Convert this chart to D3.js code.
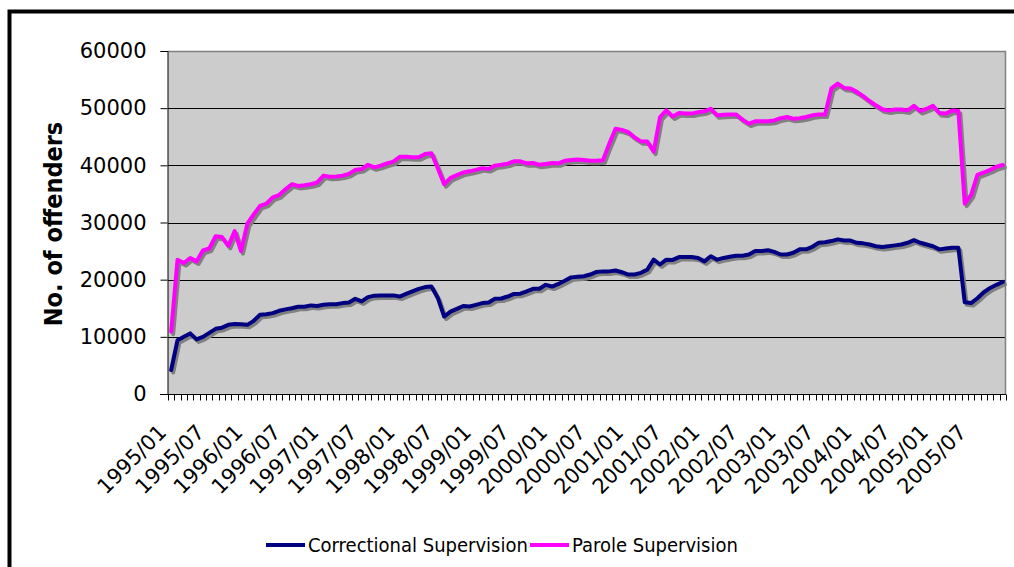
<!DOCTYPE html>
<html>
<head>
<meta charset="utf-8">
<script src="https://cdn.jsdelivr.net/npm/d3@7"></script>
<style>
  body { margin: 0; background: #fff; }
  svg { display: block; }
</style>
</head>
<body>
<svg width="1014" height="567"></svg>
<script>
const years = ["1995","1996","1997","1998","1999","2000","2001","2002","2003","2004","2005"];
const monthNums = ["01","02","03","04","05","06","07","08","09","10","11","12"];
const months = [];
years.forEach(y => monthNums.forEach(m => months.push(y + "/" + m)));

const tickLabels = ["1995/01","1995/07","1996/01","1996/07","1997/01","1997/07","1998/01","1998/07",
  "1999/01","1999/07","2000/01","2000/07","2001/01","2001/07","2002/01","2002/07",
  "2003/01","2003/07","2004/01","2004/07","2005/01","2005/07"];

const yTicks = [0, 10000, 20000, 30000, 40000, 50000, 60000];

const correctional = [
  4200, 9400, 10000, 10600, 9550, 10000, 10700, 11400, 11600, 12100, 12250, 12200,
  12100, 12800, 13850, 13950, 14150, 14550, 14800, 15000, 15250, 15250, 15500, 15400,
  15600, 15700, 15700, 15900, 16000, 16650, 16200, 16950, 17200, 17250, 17250, 17250,
  17050, 17500, 17950, 18400, 18700, 18800, 16800, 13550, 14400, 14900, 15400, 15300,
  15600, 15900, 16000, 16650, 16700, 17050, 17500, 17550, 17950, 18400, 18400, 19100,
  18800, 19250, 19800, 20400, 20500, 20600, 20900, 21350, 21450, 21450, 21600, 21300,
  20900, 20900, 21200, 21750, 23500, 22650, 23500, 23450, 23950, 23950, 23950, 23800,
  23200, 24100, 23500, 23800, 24000, 24200, 24200, 24400, 25000, 25000, 25150, 24850,
  24400, 24400, 24700, 25300, 25300, 25750, 26450, 26550, 26750, 27050, 26850, 26850,
  26450, 26350, 26150, 25850, 25700, 25850, 26000, 26150, 26450, 26900, 26450, 26150,
  25850, 25300, 25450, 25600, 25600, 16050, 15900, 16750, 17800, 18550, 19100, 19600
];

const parole = [
  10900, 23500, 22900, 23800, 23200, 25100, 25450, 27600, 27450, 25900, 28500, 25000,
  29800, 31400, 32900, 33300, 34400, 34800, 35800, 36700, 36400, 36500, 36700, 37000,
  38200, 38000, 38050, 38200, 38500, 39200, 39350, 40100, 39650, 39950, 40350, 40650,
  41500, 41500, 41400, 41400, 42000, 42100, 39500, 36700, 37800, 38300, 38750, 38950,
  39200, 39500, 39350, 39950, 40100, 40300, 40700, 40700, 40350, 40400, 40100, 40250,
  40400, 40350, 40800, 40950, 41000, 40950, 40800, 40800, 40900, 43750, 46400, 46200,
  45800, 44900, 44200, 44150, 42400, 48450, 49600, 48550, 49150, 49050, 49050, 49300,
  49450, 49900, 48750, 48850, 48900, 48900, 48000, 47300, 47700, 47700, 47700, 47850,
  48250, 48450, 48150, 48250, 48450, 48750, 48900, 48900, 53450, 54300, 53550, 53450,
  52850, 52100, 51250, 50500, 49800, 49600, 49750, 49750, 49600, 50400, 49500, 49900,
  50400, 49150, 49050, 49600, 49500, 33300, 34800, 38350, 38750, 39200, 39750, 40050
];

const seriesNames = ["Correctional Supervision", "Parole Supervision"];
const seriesColors = ["#000080", "#ff00ff"];

const svg = d3.select("svg");
const plot = { left: 168, right: 1006, top: 51, bottom: 394 };
const tickFont = "'DejaVu Sans', Verdana, sans-serif";
const condFont = "'DejaVu Sans Condensed', 'DejaVu Sans', sans-serif";

const x = d3.scaleBand().domain(months).range([plot.left, plot.right]).padding(0);
const y = d3.scaleLinear().domain([0, 60000]).range([plot.bottom, plot.top]);
const cx = d => x(d) + x.bandwidth() / 2;

// outer chart frame (runs past the bottom/right edge)
svg.append("rect")
  .attr("x", 9.5).attr("y", 11.5)
  .attr("width", 1030).attr("height", 600)
  .attr("fill", "#fff").attr("stroke", "#000").attr("stroke-width", 4);

// plot area
svg.append("rect")
  .attr("x", plot.left).attr("y", plot.top)
  .attr("width", plot.right - plot.left).attr("height", plot.bottom - plot.top)
  .attr("fill", "#cccccc");

svg.append("g")
  .selectAll("line")
  .data(yTicks.filter(v => v > 0 && v < 60000))
  .enter()
  .append("line")
  .attr("x1", plot.left).attr("x2", plot.right)
  .attr("y1", d => Math.round(y(d)) + 0.5).attr("y2", d => Math.round(y(d)) + 0.5)
  .attr("stroke", "#000").attr("stroke-width", 1);

// grey plot border top / right
svg.append("path")
  .attr("d", `M${plot.left},${plot.top + 0.5}H${plot.right - 0.5}V${plot.bottom}`)
  .attr("fill", "none").attr("stroke", "#808080").attr("stroke-width", 1.5);

// y axis
const yAxis = d3.axisLeft(y).tickValues(yTicks).tickSize(7).tickPadding(14).tickFormat(d3.format("d"));
const gy = svg.append("g")
  .attr("transform", `translate(${plot.left - 0.5},0)`)
  .call(yAxis);
gy.select(".domain").attr("stroke", "#000");
gy.selectAll("text").attr("font-family", tickFont).attr("font-size", 21).attr("fill", "#000");

// x axis: ticks between categories
const gx = svg.append("g").attr("transform", `translate(0,${plot.bottom + 0.5})`);
gx.append("line")
  .attr("x1", plot.left - 8).attr("x2", plot.right)
  .attr("stroke", "#000");
gx.selectAll(".tk")
  .data(months.concat(["end"]))
  .enter()
  .append("line")
  .attr("class", "tk")
  .attr("x1", (d, i) => Math.round(plot.left + i * x.bandwidth()) + 0.5)
  .attr("x2", (d, i) => Math.round(plot.left + i * x.bandwidth()) + 0.5)
  .attr("y1", 0).attr("y2", 6)
  .attr("stroke", "#000");
gx.selectAll(".lbl")
  .data(tickLabels)
  .enter()
  .append("text")
  .attr("class", "lbl")
  .attr("transform", d => `translate(${cx(d) - 3.5},${433 - plot.bottom}) rotate(-45)`)
  .attr("text-anchor", "end")
  .attr("font-family", tickFont).attr("font-size", 21)
  .text(d => d);

// title
svg.append("text")
  .attr("transform", "translate(62,224) rotate(-90)")
  .attr("text-anchor", "middle")
  .attr("font-family", condFont).attr("font-weight", "bold").attr("font-size", 25)
  .text("No. of offenders");

// lines with shadow
const line = d3.line()
  .x((d, i) => cx(months[i]))
  .y(d => y(d));

const allSeries = [correctional, parole];
allSeries.forEach((s, k) => {
  svg.append("path")
    .datum(s)
    .attr("d", line)
    .attr("transform", "translate(2,2.5)")
    .attr("fill", "none").attr("stroke", "#808080")
    .attr("stroke-width", 4).attr("stroke-linejoin", "round").attr("stroke-linecap", "round");
  svg.append("path")
    .datum(s)
    .attr("d", line)
    .attr("fill", "none").attr("stroke", seriesColors[k])
    .attr("stroke-width", 4).attr("stroke-linejoin", "round").attr("stroke-linecap", "round");
});

// legend
const legendX = [266, 530];
const legend = svg.append("g");
seriesNames.forEach((name, k) => {
  legend.append("line")
    .attr("x1", legendX[k]).attr("x2", legendX[k] + 39)
    .attr("y1", 545).attr("y2", 545)
    .attr("stroke", seriesColors[k]).attr("stroke-width", 4);
  legend.append("text")
    .attr("x", legendX[k] + 42).attr("y", 552)
    .attr("font-family", condFont).attr("font-size", 20)
    .text(name);
});
</script>
</body>
</html>
